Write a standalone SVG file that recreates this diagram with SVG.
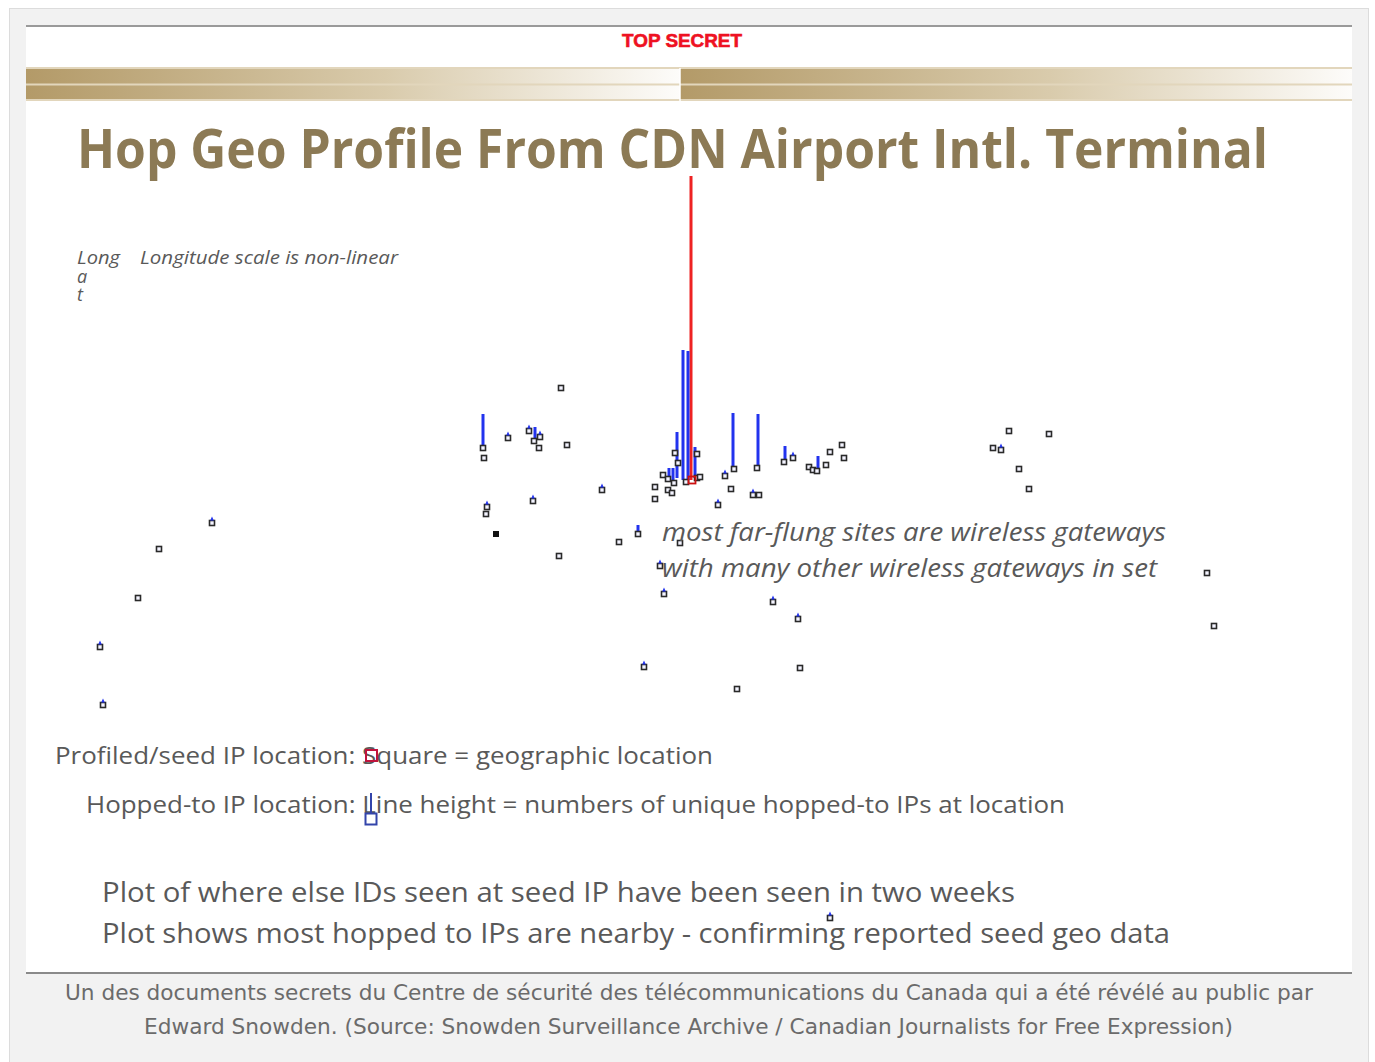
<svg xmlns="http://www.w3.org/2000/svg" xmlns:xlink="http://www.w3.org/1999/xlink" width="1375" height="1062" viewBox="0 0 1375 1062">
<style>
.body{font-family:"Open Sans","Noto Sans",sans-serif;fill:#595959}
.it{font-style:italic}
.cap{font-family:"DejaVu Sans",sans-serif;fill:#6b6b6b;font-size:21px}
.sq{fill:#f4f4ff;stroke:#2a2a2a;stroke-width:1.6}
.bl{stroke:#2233ee;stroke-width:3}
.tip{fill:#2233ee}
</style>
<defs>
<linearGradient id="band" x1="0" x2="1" y1="0" y2="0">
<stop offset="0" stop-color="#b39a68"/>
<stop offset="0.55" stop-color="#d9cbac"/>
<stop offset="1" stop-color="#fdfcfa"/>
</linearGradient>
<g id="pt"><rect class="sq" x="-2.5" y="-2.5" width="5" height="5"/></g>
<g id="pb"><rect class="sq" x="-2.5" y="-2.5" width="5" height="5"/><path class="tip" d="M-1.8,-2.5 L0,-6.5 L1.8,-2.5Z"/></g>
</defs>
<rect x="0" y="0" width="1375" height="1062" fill="#fff"/>
<rect x="9.5" y="8.5" width="1359" height="1060" fill="#f2f2f2" stroke="#dcdcdc"/>
<rect x="26" y="26" width="1326" height="946" fill="#fff"/>
<line x1="26" y1="26" x2="1352" y2="26" stroke="#9a9a9a" stroke-width="2"/>
<line x1="26" y1="973" x2="1352" y2="973" stroke="#8a8a8a" stroke-width="2"/>

<g id="header">
<text x="682" y="47" text-anchor="middle" font-family="Liberation Sans, sans-serif" font-weight="bold" font-size="19" fill="#ee1122" stroke="#ee1122" stroke-width="0.6" textLength="120" lengthAdjust="spacingAndGlyphs">TOP SECRET</text>
<rect x="26" y="68" width="654" height="33" fill="url(#band)"/>
<rect x="680" y="68" width="672" height="33" fill="url(#band)"/>
<g stroke="#e2d6bc" stroke-width="2">
<line x1="26" y1="68" x2="1352" y2="68"/>
<line x1="26" y1="84.5" x2="1352" y2="84.5"/>
<line x1="26" y1="100" x2="1352" y2="100"/>
</g>
<line x1="680" y1="68" x2="680" y2="101" stroke="#fff" stroke-width="1.5"/>
</g>

<g id="title">
<text x="77" y="168" font-family="Open Sans, sans-serif" font-weight="bold" font-size="54" fill="#8c7a55" textLength="1191" lengthAdjust="spacingAndGlyphs">Hop Geo Profile From CDN Airport Intl. Terminal</text>
</g>

<g id="axis-labels" class="body it" font-size="18">
<text x="77" y="264" textLength="43" lengthAdjust="spacingAndGlyphs">Long</text>
<text x="77" y="283">a</text>
<text x="77" y="301">t</text>
<text x="140" y="264" textLength="258" lengthAdjust="spacingAndGlyphs">Longitude scale is non-linear</text>
</g>

<g id="connectors">
<line x1="691" y1="176" x2="691" y2="480" stroke="#ee2222" stroke-width="3"/>
<line class="bl" x1="683" y1="350" x2="683" y2="480"/>
<line class="bl" x1="688" y1="351" x2="688" y2="480"/>
<line class="bl" x1="677" y1="432" x2="677" y2="478"/>
<line class="bl" x1="695" y1="447" x2="695" y2="478"/>
<line class="bl" x1="733" y1="413" x2="733" y2="469"/>
<line class="bl" x1="758" y1="414" x2="758" y2="467"/>
<line class="bl" x1="483" y1="414" x2="483" y2="447"/>
<line class="bl" x1="535" y1="427" x2="535" y2="441"/>
<line class="bl" x1="669" y1="468" x2="669" y2="478"/>
<line class="bl" x1="673" y1="468" x2="673" y2="480"/>
<line class="bl" x1="785" y1="446" x2="785" y2="460"/>
<line class="bl" x1="818" y1="456" x2="818" y2="470"/>
<line class="bl" x1="638" y1="525" x2="638" y2="533"/>
</g>

<g id="points">
<use xlink:href="#pt" x="561" y="388"/>
<use xlink:href="#pt" x="483" y="448"/>
<use xlink:href="#pt" x="484" y="458"/>
<use xlink:href="#pb" x="508" y="438"/>
<use xlink:href="#pb" x="529" y="431"/>
<use xlink:href="#pt" x="534" y="441"/>
<use xlink:href="#pb" x="540" y="437"/>
<use xlink:href="#pt" x="539" y="448"/>
<use xlink:href="#pt" x="567" y="445"/>
<use xlink:href="#pb" x="602" y="490"/>
<use xlink:href="#pb" x="533" y="501"/>
<use xlink:href="#pb" x="487" y="507"/>
<use xlink:href="#pt" x="486" y="514"/>
<rect x="493" y="531" width="6" height="6" fill="#111"/>
<use xlink:href="#pt" x="559" y="556"/>
<use xlink:href="#pt" x="675" y="453"/>
<use xlink:href="#pt" x="678" y="463"/>
<use xlink:href="#pt" x="697" y="454"/>
<use xlink:href="#pt" x="663" y="475"/>
<use xlink:href="#pt" x="668" y="479"/>
<use xlink:href="#pt" x="674" y="483"/>
<use xlink:href="#pt" x="668" y="490"/>
<use xlink:href="#pt" x="672" y="493"/>
<use xlink:href="#pt" x="655" y="487"/>
<use xlink:href="#pt" x="655" y="499"/>
<use xlink:href="#pt" x="686" y="482"/>
<use xlink:href="#pt" x="697" y="478"/>
<use xlink:href="#pt" x="700" y="477"/>
<use xlink:href="#pb" x="725" y="476"/>
<use xlink:href="#pt" x="734" y="469"/>
<use xlink:href="#pt" x="731" y="489"/>
<use xlink:href="#pb" x="718" y="505"/>
<use xlink:href="#pt" x="757" y="468"/>
<use xlink:href="#pb" x="753" y="495"/>
<use xlink:href="#pt" x="759" y="495"/>
<use xlink:href="#pt" x="784" y="462"/>
<use xlink:href="#pb" x="793" y="458"/>
<use xlink:href="#pt" x="809" y="467"/>
<use xlink:href="#pt" x="813" y="470"/>
<use xlink:href="#pt" x="817" y="471"/>
<use xlink:href="#pt" x="826" y="465"/>
<use xlink:href="#pt" x="830" y="452"/>
<use xlink:href="#pt" x="842" y="445"/>
<use xlink:href="#pt" x="844" y="458"/>
<use xlink:href="#pt" x="619" y="542"/>
<use xlink:href="#pt" x="638" y="534"/>
<use xlink:href="#pt" x="680" y="543"/>
<use xlink:href="#pb" x="660" y="566"/>
<use xlink:href="#pb" x="664" y="594"/>
<use xlink:href="#pb" x="773" y="602"/>
<use xlink:href="#pb" x="798" y="619"/>
<use xlink:href="#pb" x="644" y="667"/>
<use xlink:href="#pt" x="800" y="668"/>
<use xlink:href="#pt" x="737" y="689"/>
<use xlink:href="#pt" x="1009" y="431"/>
<use xlink:href="#pt" x="1049" y="434"/>
<use xlink:href="#pt" x="993" y="448"/>
<use xlink:href="#pb" x="1001" y="450"/>
<use xlink:href="#pt" x="1019" y="469"/>
<use xlink:href="#pt" x="1029" y="489"/>
<use xlink:href="#pt" x="1207" y="573"/>
<use xlink:href="#pt" x="1214" y="626"/>
<use xlink:href="#pb" x="212" y="523"/>
<use xlink:href="#pt" x="159" y="549"/>
<use xlink:href="#pt" x="138" y="598"/>
<use xlink:href="#pb" x="100" y="647"/>
<use xlink:href="#pb" x="103" y="705"/>
<use xlink:href="#pb" x="830" y="918"/>
<rect x="688.5" y="476.5" width="7" height="7" fill="none" stroke="#cc1111" stroke-width="1.8"/>
</g>

<g id="annotation" class="body it" font-size="25">
<text x="662" y="541" textLength="504" lengthAdjust="spacingAndGlyphs">most far-flung sites are wireless gateways</text>
<text x="662" y="577" textLength="495" lengthAdjust="spacingAndGlyphs">with many other wireless gateways in set</text>
</g>

<g id="legend" class="body" font-size="24">
<text x="55" y="764" textLength="658" lengthAdjust="spacingAndGlyphs">Profiled/seed IP location: Square = geographic location</text>
<rect x="366" y="750" width="11" height="11" fill="none" stroke="#c0143c" stroke-width="2"/>
<text x="86" y="813" textLength="979" lengthAdjust="spacingAndGlyphs">Hopped-to IP location: Line height = numbers of unique hopped-to IPs at location</text>
<line x1="371" y1="793" x2="371" y2="814" stroke="#3344aa" stroke-width="2"/>
<rect x="365.5" y="813.5" width="11" height="11" fill="none" stroke="#3344aa" stroke-width="2"/>
</g>

<g id="notes" class="body" font-size="28">
<text x="102" y="902" textLength="913" lengthAdjust="spacingAndGlyphs">Plot of where else IDs seen at seed IP have been seen in two weeks</text>
<text x="102" y="943" textLength="1068" lengthAdjust="spacingAndGlyphs">Plot shows most hopped to IPs are nearby - confirming reported seed geo data</text>
</g>

<g id="caption" class="cap">
<text x="65" y="1000" textLength="1248" lengthAdjust="spacingAndGlyphs">Un des documents secrets du Centre de sécurité des télécommunications du Canada qui a été révélé au public par</text>
<text x="144" y="1034" textLength="1089" lengthAdjust="spacingAndGlyphs">Edward Snowden. (Source: Snowden Surveillance Archive / Canadian Journalists for Free Expression)</text>
</g>
</svg>
